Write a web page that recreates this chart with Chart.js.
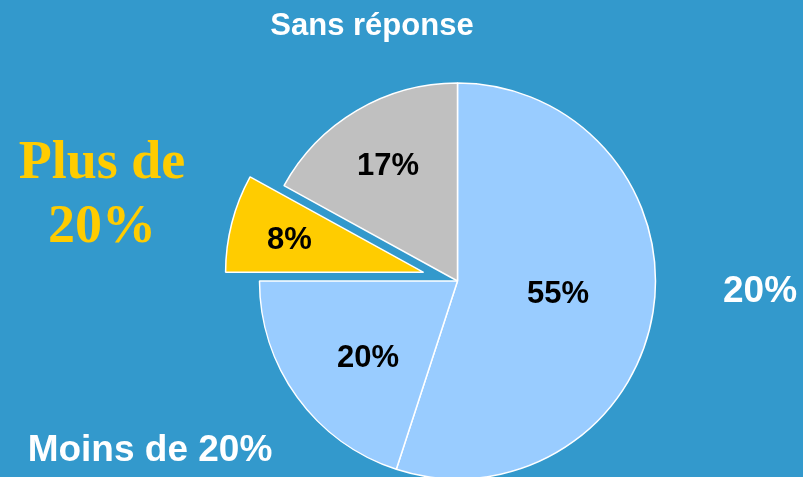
<!DOCTYPE html>
<html><head><meta charset="utf-8">
<script src="https://cdn.jsdelivr.net/npm/chart.js@4/dist/chart.umd.min.js"></script>
<style>html,body{margin:0;padding:0;background:#3399CC;overflow:hidden}#wrap{width:803px;height:477px;position:relative}</style>
</head><body><div id="wrap"><canvas id="c" width="803" height="477" style="width:803px;height:477px"></canvas></div>
<script>
// ---- data ----
const categories = ['20%', 'Moins de 20%', 'Plus de 20%', 'Sans réponse'];
const values = [55, 20, 8, 17];
const valueLabels = ['55%', '20%', '8%', '17%'];

// ---- styles ----
const sliceColors = ['#99CCFF', '#99CCFF', '#FFCC00', '#C0C0C0'];
const explode = [0, 0, 35, 0];
const labelFrac = [0.51, 0.59, 0.70, 0.69];
const labelNudgeDeg = [-3, -4, 0, 0];
const sans = '"Liberation Sans", Arial, sans-serif';
const serif = '"Liberation Serif", "Times New Roman", serif';
const categoryStyle = [
  {x: 760, y: 302, font: 'bold 37px ' + sans, color: '#FFFFFF', wrap: false, lh: 0},
  {x: 150, y: 461, font: 'bold 37px ' + sans, color: '#FFFFFF', wrap: false, lh: 0},
  {x: 102, y: 178, font: 'bold 54px ' + serif, color: '#FFCC00', wrap: true, lh: 64},
  {x: 372, y: 35, font: 'bold 31px ' + sans, color: '#FFFFFF', wrap: false, lh: 0}
];

const labelPlugin = {
  id: 'sliceLabels',
  afterDatasetUpdate(chart, args) {
    args.meta.data.forEach((arc, i) => {
      const d = explode[i] || 0;
      if (d) {
        const mid = (arc.startAngle + arc.endAngle) / 2;
        arc.x += Math.cos(mid) * d;
        arc.y += Math.sin(mid) * d;
      }
    });
  },
  afterDatasetsDraw(chart) {
    const ctx = chart.ctx;
    const meta = chart.getDatasetMeta(0);
    ctx.save();
    ctx.textAlign = 'center';
    ctx.textBaseline = 'alphabetic';
    ctx.fillStyle = '#000000';
    const fs = 31;
    ctx.font = 'bold ' + fs + 'px ' + sans;
    meta.data.forEach((arc, i) => {
      const mid = (arc.startAngle + arc.endAngle) / 2 + labelNudgeDeg[i] * Math.PI / 180;
      const r = arc.outerRadius * labelFrac[i];
      const x = arc.x + Math.cos(mid) * r;
      const y = arc.y + Math.sin(mid) * r;
      ctx.fillText(valueLabels[i], x, y + 0.358 * fs);
    });
    categories.forEach((txt, i) => {
      const s = categoryStyle[i];
      ctx.font = s.font;
      ctx.fillStyle = s.color;
      let lines = [txt];
      if (s.wrap) {
        const k = txt.lastIndexOf(' ');
        lines = [txt.slice(0, k), txt.slice(k + 1)];
      }
      lines.forEach((ln, j) => ctx.fillText(ln, s.x, s.y + j * s.lh));
    });
    ctx.restore();
  }
};

new Chart(document.getElementById('c'), {
  type: 'pie',
  data: {
    labels: categories,
    datasets: [{
      data: values,
      backgroundColor: sliceColors,
      borderColor: '#FFFFFF',
      borderWidth: 1.5,
      hoverOffset: 0,
      clip: false
    }]
  },
  options: {
    responsive: false,
    devicePixelRatio: 1,
    animation: false,
    events: [],
    radius: 198,
    layout: {padding: {left: 112, right: 0, top: 85, bottom: 0}},
    plugins: {legend: {display: false}, tooltip: {enabled: false}, title: {display: false}}
  },
  plugins: [labelPlugin]
});
</script>
</body></html>
